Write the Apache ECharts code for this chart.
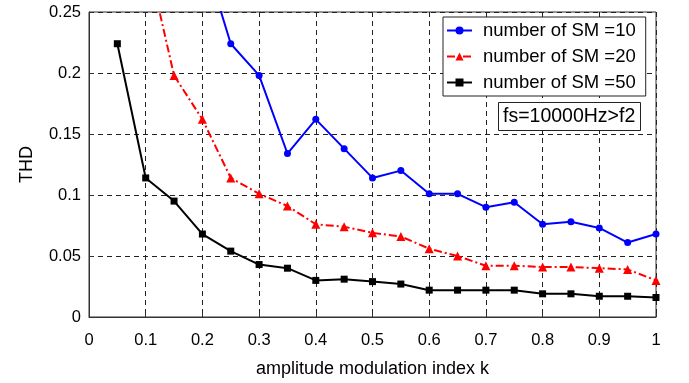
<!DOCTYPE html>
<html>
<head>
<meta charset="utf-8">
<script src="https://cdn.jsdelivr.net/npm/echarts@6/dist/echarts.min.js"></script>
<style>
  html, body { margin: 0; padding: 0; background: #fff; }
  #chart { width: 689px; height: 383px; }
</style>
</head>
<body>
<div id="chart"></div>
<script>
// modulation index k for each curve
const kSM10 = [0.2, 0.25, 0.3, 0.35, 0.4, 0.45, 0.5, 0.55, 0.6, 0.65, 0.7, 0.75, 0.8, 0.85, 0.9, 0.95, 1.0];
const thdSM10 = [0.30, 0.224, 0.198, 0.134, 0.162, 0.138, 0.114, 0.120, 0.101, 0.101, 0.090, 0.094, 0.076, 0.078, 0.073, 0.061, 0.068];

const kSM20 = [0.1, 0.15, 0.2, 0.25, 0.3, 0.35, 0.4, 0.45, 0.5, 0.55, 0.6, 0.65, 0.7, 0.75, 0.8, 0.85, 0.9, 0.95, 1.0];
const thdSM20 = [0.30, 0.198, 0.162, 0.114, 0.101, 0.091, 0.076, 0.074, 0.069, 0.066, 0.056, 0.050, 0.042, 0.042, 0.041, 0.041, 0.040, 0.039, 0.030];

const kSM50 = [0.05, 0.1, 0.15, 0.2, 0.25, 0.3, 0.35, 0.4, 0.45, 0.5, 0.55, 0.6, 0.65, 0.7, 0.75, 0.8, 0.85, 0.9, 0.95, 1.0];
const thdSM50 = [0.224, 0.114, 0.095, 0.068, 0.054, 0.043, 0.040, 0.030, 0.031, 0.029, 0.027, 0.022, 0.022, 0.022, 0.022, 0.019, 0.019, 0.017, 0.017, 0.016];

const seriesNames = ["number of SM =10", "number of SM =20", "number of SM =50"];
const noteText = "fs=10000Hz>f2";

const font = "Liberation Sans, Arial, sans-serif";
const zip = (xs, ys) => xs.map((x, i) => [x, ys[i]]);

const chart = echarts.init(document.getElementById("chart"));

const gridLine = { show: true, lineStyle: { color: "#222", type: [5, 4], width: 1 } };
const axisLine = { show: true, onZero: false, lineStyle: { color: "#333", width: 1 } };
const axisTick = { show: true, inside: true, length: 4, lineStyle: { color: "#333" } };

chart.setOption({
  animation: false,
  textStyle: { fontFamily: font, color: "#000" },
  grid: {
    left: 89, right: 33, top: 12, bottom: 58,
    show: true, borderColor: "#333", borderWidth: 1
  },
  xAxis: {
    type: "value",
    min: 0, max: 1, interval: 0.1,
    name: "amplitude modulation index k",
    nameLocation: "middle",
    nameGap: 43,
    nameTextStyle: { fontSize: 18, color: "#000", fontFamily: font },
    axisLine, axisTick,
    axisLabel: { fontSize: 16.5, color: "#000", margin: 15, fontFamily: font },
    splitLine: gridLine
  },
  yAxis: {
    type: "value",
    min: 0, max: 0.25, interval: 0.05,
    name: "THD",
    nameLocation: "middle",
    nameGap: 53,
    nameRotate: 90,
    nameTextStyle: { fontSize: 18, color: "#000", fontFamily: font },
    axisLine, axisTick,
    axisLabel: { fontSize: 16.5, color: "#000", margin: 8, fontFamily: font },
    splitLine: gridLine
  },
  legend: {
    orient: "vertical",
    left: 443, top: 17,
    padding: [4, 10, 4, 3],
    itemWidth: 25, itemHeight: 10, itemGap: 7,
    backgroundColor: "#fff",
    borderColor: "#222", borderWidth: 1,
    textStyle: { fontSize: 18.5, color: "#000", fontFamily: font, padding: [0, 0, 0, 6] },
    data: seriesNames
  },
  title: {
    text: noteText,
    left: 498, top: 102,
    padding: [5, 5, 4, 5],
    backgroundColor: "#fff",
    borderColor: "#222", borderWidth: 1,
    textStyle: { fontSize: 19.5, fontWeight: "normal", color: "#000", fontFamily: font }
  },
  series: [
    {
      name: seriesNames[0], type: "line",
      data: zip(kSM10, thdSM10),
      symbol: "circle", symbolSize: 7,
      lineStyle: { color: "#0000ff", width: 2 },
      itemStyle: { color: "#0000ff" },
      z: 3
    },
    {
      name: seriesNames[1], type: "line",
      data: zip(kSM20, thdSM20),
      symbol: "triangle", symbolSize: 9,
      lineStyle: { color: "#ff0000", width: 2, type: [8, 3, 2, 3] },
      itemStyle: { color: "#ff0000" },
      z: 3
    },
    {
      name: seriesNames[2], type: "line",
      data: zip(kSM50, thdSM50),
      symbol: "rect", symbolSize: 7,
      lineStyle: { color: "#000", width: 2 },
      itemStyle: { color: "#000" },
      z: 3
    }
  ]
});
</script>
</body>
</html>
